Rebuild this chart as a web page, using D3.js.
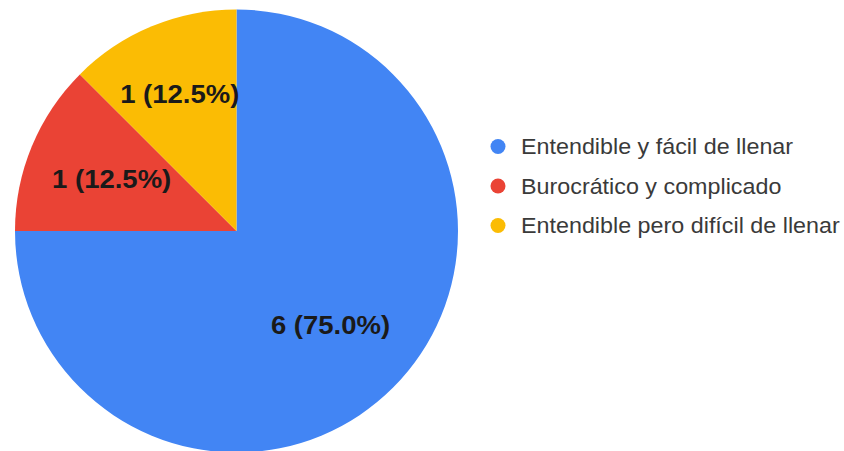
<!DOCTYPE html>
<html>
<head>
<meta charset="utf-8">
<script src="https://cdn.jsdelivr.net/npm/d3@7"></script>
<style>
  body { margin: 0; background: #fff; }
  svg { display: block; font-family: "Liberation Sans", Arial, sans-serif; }
</style>
</head>
<body>
<div class="chart"></div>
<script>
// chart data
var categories = ["Entendible y fácil de llenar", "Burocrático y complicado", "Entendible pero difícil de llenar"];
var counts = [6, 1, 1];
var colors = ["#4285F4", "#EA4335", "#FBBC04"];

var svgWidth = 844;
var svgHeight = 451;

var cx = 236.5;
var cy = 231;
var radius = 221.5;

// label radius as fraction of the pie radius, per slice
var labelFrac = [0.6, 0.61, 0.67];

var svg = d3.select(".chart")
    .append("svg")
    .attr("width", svgWidth)
    .attr("height", svgHeight);

var total = d3.sum(counts);

var data = categories.map(function (c, i) {
    return { name: c, value: counts[i], color: colors[i], lf: labelFrac[i] };
});

var pie = d3.pie().sort(null).value(function (d) { return d.value; });
var arc = d3.arc().innerRadius(0).outerRadius(radius);

var chart = svg.append("g")
    .attr("transform", `translate(${cx},${cy})`);

var slices = pie(data);

chart.selectAll("path")
    .data(slices)
    .enter()
    .append("path")
    .attr("d", arc)
    .attr("fill", function (d) { return d.data.color; });

// slice labels (glyphs a bit wide in the original, so stretch x)
chart.selectAll("text")
    .data(slices)
    .enter()
    .append("text")
    .attr("transform", function (d) {
        var r = radius * d.data.lf;
        var la = d3.arc().innerRadius(r).outerRadius(r);
        return `translate(${la.centroid(d)}) scale(1.1,1)`;
    })
    .attr("text-anchor", "middle")
    .attr("dy", "0.36em")
    .attr("font-size", "25px")
    .attr("font-weight", "bold")
    .attr("fill", "#1a1a1a")
    .text(function (d) {
        return d.data.value + " (" + (d.data.value / total * 100).toFixed(1) + "%)";
    });

// legend
var legendY = d3.scalePoint()
    .domain(categories)
    .range([146.5, 225.5]);

var legend = svg.append("g")
    .attr("transform", "translate(498,0)");

var rows = legend.selectAll("g")
    .data(data)
    .enter()
    .append("g")
    .attr("transform", function (d) { return `translate(0,${legendY(d.name)})`; });

rows.append("circle")
    .attr("r", 7.5)
    .attr("fill", function (d) { return d.color; });

rows.append("text")
    .attr("transform", "translate(23,0) scale(1.06,1)")
    .attr("dy", "0.36em")
    .attr("font-size", "22px")
    .attr("fill", "#3a3a3a")
    .text(function (d) { return d.name; });
</script>
</body>
</html>
